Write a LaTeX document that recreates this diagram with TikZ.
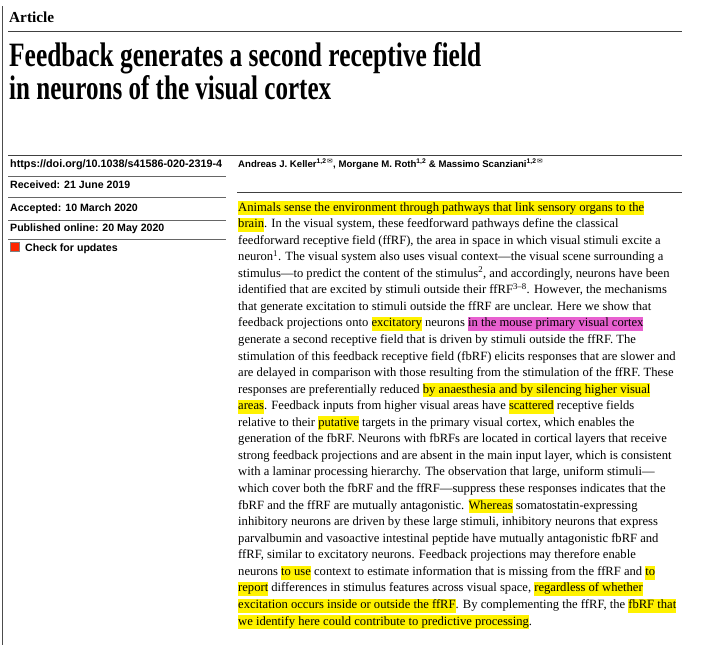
\documentclass[tikz,border=0pt]{standalone}
\usepackage{fontspec}
\setmainfont{Liberation Serif}
\setsansfont{Liberation Sans}
\newfontfamily\dejavu{DejaVu Sans}
\usepackage{xcolor}
\definecolor{hly}{HTML}{FFF200}
\definecolor{hlm}{HTML}{E860D0}
\newcommand\hy[1]{{\setlength\fboxsep{0pt}\colorbox{hly}{\strut #1}}}
\newcommand\hm[1]{{\setlength\fboxsep{0pt}\colorbox{hlm}{\strut #1}}}
\newcommand\envl{{\dejavu\mdseries ✉}}
\begin{document}
\begin{tikzpicture}[x=1pt,y=-1pt,
  body/.style={anchor=base west,inner sep=0pt,font=\fontsize{12.6}{14}\selectfont},
  meta/.style={anchor=base west,inner sep=0pt,font=\sffamily\bfseries\fontsize{10.6}{12}\selectfont},
  rule/.style={line width=0.8pt,black!75}]
\useasboundingbox (0,0) rectangle (720,645);
\draw[line width=0.8pt,black!70] (2,6) -- (2,645);
\node[anchor=base west,inner sep=0pt,font=\bfseries\fontsize{16}{18}\selectfont] (art) at (9,22) {\resizebox{45pt}{!}{Article}};
\draw[rule] (8,31) -- (682,31);
\node[anchor=base west,inner sep=0pt] (t1) at (9,66) {\resizebox{472pt}{24pt}{\bfseries Feedback generates a second receptive field}};
\node[anchor=base west,inner sep=0pt] (t2) at (9,99) {\resizebox{322pt}{24pt}{\bfseries in neurons of the visual cortex}};
\draw[rule] (8,155) -- (682,155);
\node[meta] (doi) at (10,167) {\resizebox{212pt}{!}{https://doi.org/10.1038/s41586-020-2319-4}};
\draw[line width=0.5pt,black!60] (8,176) -- (226,176);
\node[meta] (rec) at (10,188) {Received: 21 June 2019};
\draw[line width=0.5pt,black!60] (8,197) -- (226,197);
\node[meta] (acc) at (10,211) {Accepted: 10 March 2020};
\draw[line width=0.5pt,black!60] (8,220) -- (226,220);
\node[meta] (pub) at (10,231) {Published online: 20 May 2020};
\draw[line width=0.5pt,black!60] (8,239) -- (226,239);
\node[draw=black!50,fill=red!70!orange,minimum size=9pt,inner sep=0pt] (icon) at (15,247) {};
\node[meta] (chk) at (25,251) {Check for updates};
\node[meta] (auth) at (238,167) {\resizebox{305pt}{!}{Andreas J. Keller\textsuperscript{1,2\,\envl}, Morgane M. Roth\textsuperscript{1,2} \& Massimo Scanziani\textsuperscript{1,2\,\envl}}};
\draw[rule] (237,192) -- (682,192);
\foreach \i/\t in {
1/{\hy{Animals sense the environment through pathways that link sensory organs to the}},
2/{\hy{brain}. In the visual system, these feedforward pathways define the classical},
3/{feedforward receptive field (ffRF), the area in space in which visual stimuli excite a},
4/{neuron\textsuperscript{1}. The visual system also uses visual context—the visual scene surrounding a},
5/{stimulus—to predict the content of the stimulus\textsuperscript{2}, and accordingly, neurons have been},
6/{identified that are excited by stimuli outside their ffRF\textsuperscript{3–8}. However, the mechanisms},
7/{that generate excitation to stimuli outside the ffRF are unclear. Here we show that},
8/{feedback projections onto \hy{excitatory} neurons \hm{in the mouse primary visual cortex}},
9/{generate a second receptive field that is driven by stimuli outside the ffRF. The},
10/{stimulation of this feedback receptive field (fbRF) elicits responses that are slower and},
11/{are delayed in comparison with those resulting from the stimulation of the ffRF. These},
12/{responses are preferentially reduced \hy{by anaesthesia and by silencing higher visual}},
13/{\hy{areas}. Feedback inputs from higher visual areas have \hy{scattered} receptive fields},
14/{relative to their \hy{putative} targets in the primary visual cortex, which enables the},
15/{generation of the fbRF. Neurons with fbRFs are located in cortical layers that receive},
16/{strong feedback projections and are absent in the main input layer, which is consistent},
17/{with a laminar processing hierarchy. The observation that large, uniform stimuli—},
18/{which cover both the fbRF and the ffRF—suppress these responses indicates that the},
19/{fbRF and the ffRF are mutually antagonistic. \hy{Whereas} somatostatin-expressing},
20/{inhibitory neurons are driven by these large stimuli, inhibitory neurons that express},
21/{parvalbumin and vasoactive intestinal peptide have mutually antagonistic fbRF and},
22/{ffRF, similar to excitatory neurons. Feedback projections may therefore enable},
23/{neurons \hy{to use} context to estimate information that is missing from the ffRF and \hy{to}},
24/{\hy{report} differences in stimulus features across visual space, \hy{regardless of whether}},
25/{\hy{excitation occurs inside or outside the ffRF}. By complementing the ffRF, the \hy{fbRF that}},
26/{\hy{we identify here could contribute to predictive processing}.}}
  \node[body] (L\i) at (238,{211+(\i-1)*16.56}) {\t};
\end{tikzpicture}
\end{document}
